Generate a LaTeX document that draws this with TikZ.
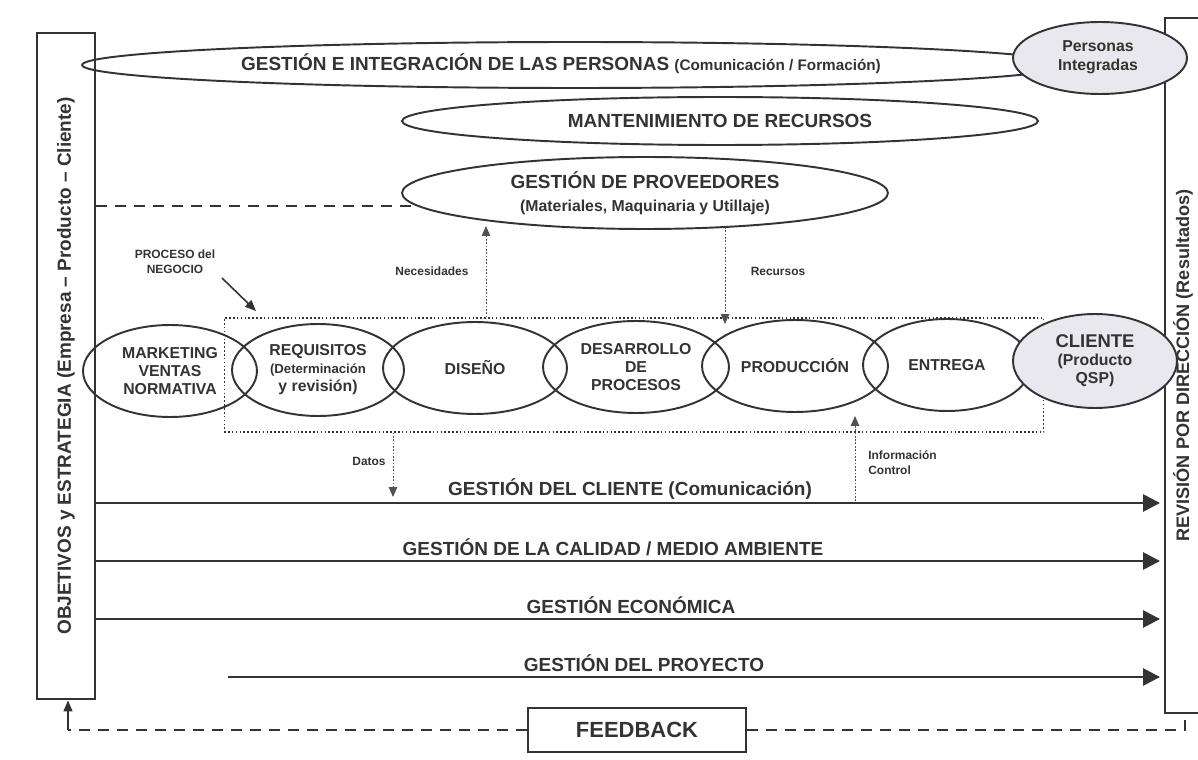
\documentclass[tikz,border=0pt]{standalone}
\usepackage{graphicx}
\usepackage{fontspec}
\setmainfont{Liberation Sans}
\usetikzlibrary{shapes.geometric,arrows.meta}
\definecolor{ink}{HTML}{333333}
\definecolor{shade}{HTML}{E8E8EE}
\begin{document}
\begin{tikzpicture}[x=0.02cm,y=-0.02cm,
  ell/.style={ellipse,draw=ink,line width=1.1pt,inner sep=0pt},
  big/.style={font=\bfseries\fontsize{10.8pt}{13pt}\selectfont,text=ink,inner sep=0pt},
  mid/.style={font=\bfseries\fontsize{9pt}{10.3pt}\selectfont,text=ink,align=center,inner sep=0pt},
  tiny/.style={font=\bfseries\fontsize{6.8pt}{8.4pt}\selectfont,text=ink,align=center,inner sep=0pt},
  frame/.style={draw=ink,line width=1.1pt,inner sep=0pt},
  flow/.style={draw=ink,line width=1.5pt,shorten >=0.08cm,-{Triangle[length=0.34cm,width=0.34cm]}},
  probe/.style={draw=ink!85,line width=0.5pt,dash pattern=on 1pt off 0.9pt,-{Triangle[length=0.2cm,width=0.17cm]}},
  pointer/.style={draw=ink,line width=0.9pt,-{Triangle[length=0.22cm,width=0.18cm]}},
  dashline/.style={draw=ink,line width=1.2pt,dash pattern=on 0.22cm off 0.16cm},
  dotbox/.style={draw=ink,line width=0.6pt,dash pattern=on 0.9pt off 1.3pt,inner sep=0pt}
]
\fill[white] (0,0) rectangle (1198,760);
\useasboundingbox (0,0) rectangle (1198,760);

% side frames
\node[frame,minimum width=1.16cm,minimum height=13.34cm,
  font=\bfseries\fontsize{10.8pt}{13pt}\selectfont,text=ink] (obj) at (66,366)
  {\rotatebox{90}{OBJETIVOS y ESTRATEGIA (Empresa – Producto – Cliente)}};
\node[frame,minimum width=0.84cm,minimum height=13.9cm,
  font=\bfseries\fontsize{10.3pt}{12pt}\selectfont,text=ink] (rev) at (1186,365.5)
  {\rotatebox{90}{REVISIÓN POR DIRECCIÓN (Resultados)}\hspace*{0.12cm}};

% top ellipses
\node[ell,minimum width=19.72cm,minimum height=0.92cm] (epers) at (575,65) {};
\node[big] (tpers) at (561,64) {GESTIÓN E INTEGRACIÓN DE LAS PERSONAS {\fontsize{8.7pt}{10pt}\selectfont(Comunicación / Formación)}};
\node[ell,fill=shade,minimum width=3.48cm,minimum height=1.44cm] (eint) at (1100,58) {};
\node[mid,font=\bfseries\fontsize{9pt}{10.8pt}\selectfont] (tint) at (1098,57) {Personas\\Integradas};

\node[ell,minimum width=12.72cm,minimum height=0.96cm] (emant) at (720,121) {};
\node[big] (tmant) at (720,121) {MANTENIMIENTO DE RECURSOS};

\node[ell,minimum width=9.72cm,minimum height=1.44cm] (eprov) at (645,193) {};
\node[big,align=center] (tprov) at (645,193) {GESTIÓN DE PROVEEDORES\\{\fontsize{9pt}{11pt}\selectfont (Materiales, Maquinaria y Utillaje)}};

\coordinate (pvL) at (417,206);
\draw[dashline] (obj.east |- pvL) -- (pvL);

% business process box
\node[dotbox,minimum width=16.4cm,minimum height=2.28cm] (proc) at (634,375) {};

% process ellipses
\node[ell,mid,minimum width=3.48cm,minimum height=1.84cm] (emkt) at (170,371) {MARKETING\\VENTAS\\NORMATIVA};
\node[ell,mid,minimum width=3.44cm,minimum height=1.84cm] (ereq) at (318,370) {REQUISITOS\\ \fontsize{7.5pt}{9.4pt}\selectfont(Determinación\\y revisión)};
\node[ell,mid,minimum width=3.68cm,minimum height=1.84cm] (edis) at (475,368) {DISEÑO};
\node[ell,mid,minimum width=3.72cm,minimum height=1.84cm] (edes) at (636,367) {DESARROLLO\\DE\\PROCESOS};
\node[ell,mid,minimum width=3.72cm,minimum height=1.84cm] (epro) at (795,366) {PRODUCCIÓN};
\node[ell,mid,minimum width=3.36cm,minimum height=1.84cm] (eent) at (947,365) {ENTREGA};
\node[ell,mid,fill=shade,minimum width=3.28cm,minimum height=1.88cm] (ecli) at (1095,361) {\fontsize{10.5pt}{11pt}\selectfont CLIENTE\\ \fontsize{9pt}{10pt}\selectfont(Producto\\QSP)};

% small labels
\node[tiny] (lneg) at (175,262) {PROCESO del\\NEGOCIO};
\coordinate (negA) at (222,278);
\coordinate (negB) at (256,311);
\draw[pointer] (negA) -- (negB);

\node[tiny] (lnec) at (432,271) {Necesidades};
\coordinate (necB) at (486,226);
\draw[probe] (proc.north -| necB) -- (necB);

\node[tiny] (lrec) at (778,271) {Recursos};
\coordinate (recA) at (725,227);
\coordinate (recB) at (725,324);
\draw[probe] (recA) -- (recB);

\node[tiny] (ldat) at (369,461) {Datos};
\coordinate (datB) at (393,497);
\draw[probe] (proc.south -| datB) -- (datB);

\node[tiny,align=left,anchor=west] (linf) at (868,463) {Información\\Control};
\coordinate (infA) at (855,501);
\coordinate (infB) at (855,416);
\draw[probe] (infA) -- (infB);

% management flows
\coordinate (f1) at (0,503);
\coordinate (f2) at (0,561);
\coordinate (f3) at (0,619);
\coordinate (f4) at (228,677);
\draw[flow] (obj.east |- f1) -- (rev.west |- f1);
\draw[flow] (obj.east |- f2) -- (rev.west |- f2);
\draw[flow] (obj.east |- f3) -- (rev.west |- f3);
\draw[flow] (f4) -- (rev.west |- f4);
\node[big] (l1) at (630,489) {GESTIÓN DEL CLIENTE (Comunicación)};
\node[big] (l2) at (613,547) {GESTIÓN DE LA CALIDAD / MEDIO AMBIENTE};
\node[big] (l3) at (631,605) {GESTIÓN ECONÓMICA};
\node[big] (l4) at (644,663) {GESTIÓN DEL PROYECTO};

% feedback
\node[frame,line width=1pt,minimum width=4.36cm,minimum height=0.88cm,
  font=\bfseries\fontsize{12.5pt}{14pt}\selectfont,text=ink] (fb) at (637,730) {FEEDBACK};
\coordinate (fbR) at (1185,730);
\draw[dashline] (fb.east) -- (fbR) -- (rev.south -| fbR);
\coordinate (fbL) at (68,730);
\draw[dashline] (fb.west) -- (fbL);
\draw[pointer] (fbL) -- (obj.south -| fbL);
\end{tikzpicture}
\end{document}
